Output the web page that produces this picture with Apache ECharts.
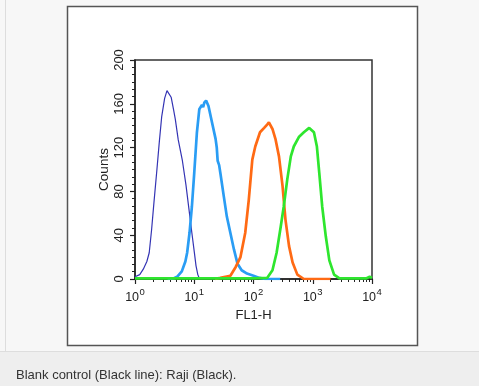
<!DOCTYPE html>
<html>
<head>
<meta charset="utf-8">
<script src="https://cdn.jsdelivr.net/npm/echarts@6/dist/echarts.min.js"></script>
<style>
html,body{margin:0;padding:0;background:#f7f7f7;}
#c{width:479px;height:386px;}
</style>
</head>
<body>
<div id="c"></div>
<script>
// x positions are log10(FL1-H) (decades); y = Counts
const navyX = [0, 0.02, 0.08, 0.14, 0.2, 0.24, 0.28, 0.32, 0.37, 0.41, 0.45, 0.5, 0.54, 0.57, 0.61, 0.65, 0.68, 0.73, 0.8, 0.86, 0.91, 0.96, 1.0, 1.03, 1.06, 1.09];
const navyY = [2, 1, 4, 9, 16, 24, 45, 70, 100, 125, 148, 165, 172, 171, 166, 155, 146, 127, 108, 86, 64, 42, 25, 12, 4, 0];

const blueX = [0.55, 0.65, 0.71, 0.79, 0.85, 0.88, 0.92, 0.96, 1.0, 1.045, 1.085, 1.13, 1.15, 1.17, 1.2, 1.24, 1.3, 1.36, 1.38, 1.395, 1.42, 1.44, 1.5, 1.55, 1.61, 1.67, 1.73, 1.8, 1.89, 2.0, 2.1, 2.2, 2.45];
const blueY = [0, 0.5, 2, 7, 16, 24, 42, 66, 97, 134, 155, 159, 157, 161, 163, 158, 143, 128, 120, 108, 104, 97, 75, 57, 42, 27, 14, 8, 5, 3, 1, 0, 0];

const orangeX = [1.35, 1.44, 1.61, 1.7, 1.78, 1.86, 1.92, 1.98, 2.03, 2.11, 2.18, 2.23, 2.26, 2.32, 2.37, 2.43, 2.49, 2.54, 2.6, 2.66, 2.74, 2.85, 3.3];
const orangeY = [0, 1, 3, 11, 20, 42, 72, 109, 121, 134, 138, 141, 143, 137, 128, 112, 85, 54, 30, 15, 4, 0, 0];

const greenX = [0, 1, 2, 2.23, 2.32, 2.39, 2.46, 2.51, 2.57, 2.63, 2.68, 2.77, 2.85, 2.94, 3.02, 3.07, 3.11, 3.16, 3.22, 3.28, 3.36, 3.45, 3.9, 3.96, 4];
const greenY = [0.5, 0.5, 0.5, 1, 8, 24, 48, 66, 91, 112, 121, 130, 134, 138, 134, 121, 97, 66, 39, 17, 4, 0.5, 0.5, 2, 1];

const xDecades = [0, 1, 2, 3, 4];
const yTicks = [0, 40, 80, 120, 160, 200];
const caption = 'Blank control (Black line): Raji (Black).';

const minorX = [];
for (let d = 0; d < 4; d++) for (let k = 2; k <= 9; k++) minorX.push(d + Math.log10(k));

const pair = (xs, ys) => xs.map((x, i) => [x, ys[i]]);
const FONT = 'Liberation Sans, Arial, Helvetica, sans-serif';

const chart = echarts.init(document.getElementById('c'), null, {renderer: 'canvas'});
chart.setOption({
  backgroundColor: '#f7f7f7',
  animation: false,
  graphic: [
    {type: 'rect', shape: {x: 0, y: 351, width: 479, height: 35}, style: {fill: '#eeeeee'}, z: -10},
    {type: 'line', shape: {x1: 0, y1: 351.5, x2: 479, y2: 351.5}, style: {stroke: '#dddddd', lineWidth: 1}, z: -10},
    {type: 'line', shape: {x1: 5.5, y1: 0, x2: 5.5, y2: 351}, style: {stroke: '#dddddd', lineWidth: 1}, z: -10},
    {type: 'rect', shape: {x: 67.5, y: 6.5, width: 350, height: 339}, style: {fill: '#ffffff', stroke: '#555555', lineWidth: 1.5}, z: -9},
    {type: 'text', x: 16, y: 375, style: {text: caption, font: '13px ' + FONT, fill: '#333333', textVerticalAlign: 'middle'}}
  ],
  grid: {left: 135, right: 107, top: 60, bottom: 107, show: true, borderColor: '#333', borderWidth: 1.5, backgroundColor: 'transparent'},
  xAxis: [{
    type: 'value', min: 0, max: 4, interval: 1,
    name: 'FL1-H', nameLocation: 'middle', nameGap: 28,
    nameTextStyle: {fontFamily: FONT, fontSize: 13, color: '#222'},
    axisLine: {lineStyle: {color: '#222', width: 1.5}},
    axisTick: {length: 5, lineStyle: {color: '#222', width: 1.2}},
    splitLine: {show: false},
    axisLabel: {
      margin: 8, color: '#222', fontFamily: FONT,
      formatter: v => '{b|10}{s|' + xDecades[Math.round(v)] + '}',
      rich: {
        b: {fontSize: 12.5, fontFamily: FONT, color: '#222', verticalAlign: 'bottom'},
        s: {fontSize: 9.5, fontFamily: FONT, color: '#222', verticalAlign: 'bottom', padding: [0, 0, 7, 0.5]}
      }
    }
  }, {
    type: 'value', min: 0, max: 4, position: 'bottom', gridIndex: 0,
    axisLine: {show: false}, axisLabel: {show: false}, splitLine: {show: false},
    axisTick: {show: true, length: 3, customValues: minorX, lineStyle: {color: '#222', width: 1}}
  }],
  yAxis: {
    type: 'value', min: 0, max: 200, interval: 40,
    name: 'Counts', nameLocation: 'middle', nameGap: 24, nameRotate: 90,
    nameTextStyle: {fontFamily: FONT, fontSize: 13.5, color: '#222'},
    axisLine: {show: true, lineStyle: {color: '#222', width: 1.5}},
    axisTick: {length: 5, lineStyle: {color: '#222', width: 1.2}},
    minorTick: {show: true, splitNumber: 6, length: 3, lineStyle: {color: '#222', width: 1}},
    splitLine: {show: false},
    axisLabel: {rotate: 90, margin: 9, fontFamily: FONT, fontSize: 13, color: '#222'}
  },
  series: [
    {type: 'line', data: pair(navyX, navyY), showSymbol: false, lineStyle: {color: '#3434b4', width: 1.2}, z: 2},
    {type: 'line', data: pair(blueX, blueY), showSymbol: false, lineStyle: {color: '#2a9df4', width: 2.7}, z: 3},
    {type: 'line', data: pair(orangeX, orangeY), showSymbol: false, lineStyle: {color: '#ff6a14', width: 2.7}, z: 4},
    {type: 'line', data: pair(greenX, greenY), showSymbol: false, lineStyle: {color: '#2ee62e', width: 2.7}, z: 5}
  ]
});
</script>
</body>
</html>
